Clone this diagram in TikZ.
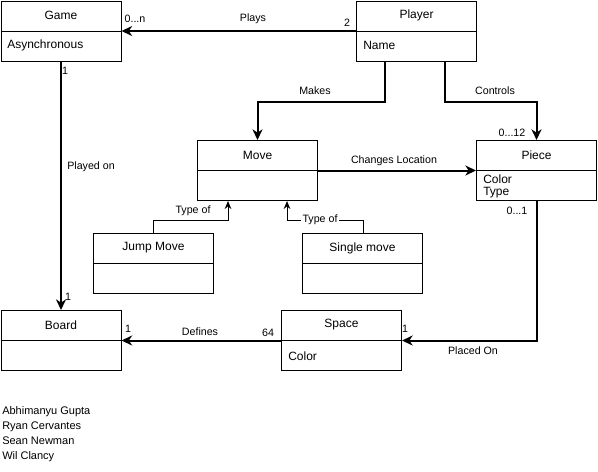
\documentclass[tikz,border=0pt]{standalone}
\usepackage{fontspec}
\setmainfont{Liberation Sans}
\usetikzlibrary{arrows.meta,calc}
\begin{document}
\begin{tikzpicture}[x=0.75pt,y=-0.75pt,
 cls/.style={draw, line width=0.75pt, minimum width=90pt, minimum height=45pt, anchor=north west, inner sep=0pt},
 ttl/.style={font=\fontsize{9}{10}\selectfont, inner sep=0pt},
 attr/.style={font=\fontsize{9}{10}\selectfont, anchor=west, inner sep=0pt},
 lbl/.style={font=\fontsize{8}{9}\selectfont, inner sep=1pt},
 names/.style={font=\fontsize{8.25}{11.2}\selectfont, anchor=north west, align=left, inner sep=0pt},
 assoc/.style={line width=1.5pt, -{Stealth[length=8pt,width=7.5pt,inset=2.5pt]}},
 gen/.style={line width=0.75pt, -{Stealth[length=6pt,width=5pt,inset=2pt]}},
]
\useasboundingbox (0,0) rectangle (598,471);

% classes
\node[cls] (game)   at (0.5,0.5) {};
\node[cls] (player) at (356,0.5) {};
\node[cls] (move)   at (197,140) {};
\node[cls] (piece)  at (476,140) {};
\node[cls] (jump)   at (93,233) {};
\node[cls] (single) at (302,233) {};
\node[cls] (board)  at (0.5,310) {};
\node[cls] (space)  at (281,310) {};
\foreach \c in {game,player,move,piece,jump,single,board,space}
  \draw[line width=0.75pt] (\c.west) -- (\c.east);

% titles
\node[ttl] (gameT)   at ($(game.north)+(0,15)$)   {Game};
\node[ttl] (playerT) at ($(player.north)+(0,15)$) {Player};
\node[ttl] (moveT)   at ($(move.north)+(0,15)$)   {Move};
\node[ttl] (pieceT)  at ($(piece.north)+(0,15)$)  {Piece};
\node[ttl] (jumpT)   at ($(jump.north)+(0,15)$)   {Jump Move};
\node[ttl] (singleT) at ($(single.north)+(0,15)$) {Single move};
\node[ttl] (boardT)  at ($(board.north)+(0,15)$)  {Board};
\node[ttl] (spaceT)  at ($(space.north)+(0,15)$)  {Space};

% attributes
\node[attr] (gameA)   at (7,45)   {Asynchronous};
\node[attr] (playerA) at (363,45) {Name};
\node[attr] (pieceA1) at (483,179) {Color};
\node[attr] (pieceA2) at (483,193) {Type};
\node[attr] (spaceA)  at (288,356) {Color};

% connectors
\draw[assoc] (player.west) -- (game.east);
\draw[assoc] (game.south) -- (board.north);
\coordinate (mk) at ($(player.south west)+(29,0)$);
\draw[assoc] (mk) -- ++(0,40) -| (move.north);
\coordinate (ct) at ($(player.south west)+(89,0)$);
\draw[assoc] (ct) -- ++(0,40) -| (piece.north);
\draw[assoc] (move.east) -- (piece.west);
\draw[assoc] (piece.south) |- (space.east);
\draw[assoc] (space.west) -- (board.east);
\coordinate (j1) at ($(jump.north west)+(60,0)$);
\coordinate (j2) at ($(move.south west)+(31,0)$);
\draw[gen] (j1) -- ++(0,-13) -| (j2);
\coordinate (s1) at ($(single.north west)+(61,0)$);
\coordinate (s2) at ($(move.south west)+(90,0)$);
\draw[gen] (s1) -- ++(0,-13) -| (s2);

% labels
\node[lbl] (lPlays) at (253,19) {Plays};
\node[lbl] (m1) at (135,19) {0...n};
\node[lbl] (m2) at (347,23) {2};
\node[lbl] (m3) at (65,71) {1};
\node[lbl, anchor=west, inner sep=0pt] (lPlayed) at (67,167) {Played on};
\node[lbl] (m4) at (68,297) {1};
\node[lbl] (lMakes) at (315,91) {Makes};
\node[lbl] (lControls) at (495,91) {Controls};
\node[lbl] (m5) at (512,133) {0...12};
\node[lbl] (lChanges) at (394,161) {Changes Location};
\node[lbl] (m6) at (517,211) {0...1};
\node[lbl] (lType1) at (193,211) {Type of};
\node[lbl, fill=white] (lType2) at (320,220) {Type of};
\node[lbl] (m7) at (128,329) {1};
\node[lbl] (lDefines) at (200,332) {Defines};
\node[lbl] (m8) at (268,333) {64};
\node[lbl] (m9) at (405,329) {1};
\node[lbl] (lPlaced) at (473,351) {Placed On};

% authors
\node[names] (authors) at (2,406) {Abhimanyu Gupta\\Ryan Cervantes\\Sean Newman\\Wil Clancy};
\end{tikzpicture}
\end{document}
